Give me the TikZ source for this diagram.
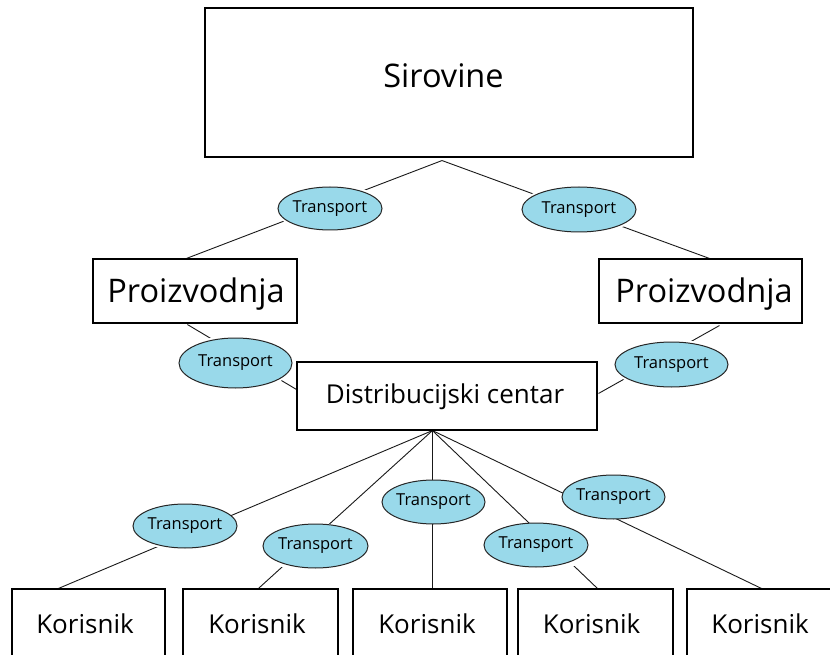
\documentclass[tikz,border=0pt]{standalone}
\usepackage{fontspec}
\setmainfont{Open Sans}
\usetikzlibrary{shapes.geometric,backgrounds,calc}
\definecolor{tblue}{RGB}{153,217,234}
\pgfdeclarelayer{halo}
\pgfsetlayers{background,halo,main}
\begin{document}
\begin{tikzpicture}[x=1pt,y=-1pt,
  boxnode/.style={rectangle,draw=black,line width=1.1pt,fill=white,inner sep=0pt},
  tnode/.style={ellipse,draw=black!85,line width=1pt,fill=tblue,inner sep=0pt,
    font=\fontsize{16.5}{19}\selectfont},
  ringhalo/.style={preaction={draw=white,line width=5pt}},
  conn/.style={draw=black!90,line width=0.9pt},
  lbl/.style={anchor=base,inner sep=0pt},
  big/.style={font=\fontsize{32.5}{38}\selectfont},
  mid/.style={font=\fontsize{26}{30}\selectfont}]
\useasboundingbox (0,0) rectangle (830,655);
\clip (0,0) rectangle (830,655);

% transport ellipses
\node[tnode,ringhalo,minimum width=104pt,minimum height=43pt] (t1) at (330,208.5) {\makebox[0pt]{Transport}};
\node[tnode,ringhalo,minimum width=114pt,minimum height=45pt] (t2) at (579,209.5) {\makebox[0pt]{Transport}};
\node[tnode,ringhalo,minimum width=113pt,minimum height=50pt] (t3) at (235.5,363) {\makebox[0pt]{Transport}};
\node[tnode,ringhalo,minimum width=113pt,minimum height=45pt] (t4) at (671.5,364.5) {\makebox[0pt]{Transport}};
\node[tnode,minimum width=104pt,minimum height=44pt] (e1) at (185,526) {\makebox[0pt]{Transport}};
\node[tnode,minimum width=105pt,minimum height=44pt] (e2) at (315.5,546) {\makebox[0pt]{Transport}};
\node[tnode,minimum width=103pt,minimum height=44pt] (e3) at (433.5,502) {\makebox[0pt]{Transport}};
\node[tnode,minimum width=104pt,minimum height=44pt] (e4) at (536,545) {\makebox[0pt]{Transport}};
\node[tnode,minimum width=103pt,minimum height=44pt] (e5) at (613.5,497) {\makebox[0pt]{Transport}};

% white frames behind the lower ellipses
\begin{pgfonlayer}{halo}
\foreach \e in {e1,e2,e3,e4,e5}
  \fill[white] ($(\e.south west)+(-6,5)$) rectangle ($(\e.north east)+(6,-6)$);
\end{pgfonlayer}

% boxes
\node[boxnode,minimum width=488pt,minimum height=149pt] (sir) at (449,82.5) {};
\node[boxnode,minimum width=204pt,minimum height=64pt] (p1) at (195,291) {};
\node[boxnode,minimum width=203pt,minimum height=64pt] (p2) at (700.5,291) {};
\node[boxnode,minimum width=300pt,minimum height=68pt] (dc) at (447,396) {};
\node[boxnode,minimum width=153pt,minimum height=100pt] (k1) at (88.5,639) {};
\node[boxnode,minimum width=155pt,minimum height=100pt] (k2) at (260.5,639) {};
\node[boxnode,minimum width=154pt,minimum height=100pt] (k3) at (430,639) {};
\node[boxnode,minimum width=155pt,minimum height=100pt] (k4) at (595.5,639) {};
\node[boxnode,minimum width=148pt,minimum height=100pt] (k5) at (761,639) {};

% texts
\node[lbl,big] (sirT) at (443.5,88) {Sirovine};
\node[lbl,big] (p1T) at (196,302) {Proizvodnja};
\node[lbl,big] (p2T) at (704,302) {Proizvodnja};
\node[lbl,mid] (dcT) at (445,403) {Distribucijski centar};
\node[lbl,mid] (k1T) at (85,633) {Korisnik};
\node[lbl,mid] (k2T) at (257,633) {Korisnik};
\node[lbl,mid] (k3T) at (427,633) {Korisnik};
\node[lbl,mid] (k4T) at (591.5,633) {Korisnik};
\node[lbl,mid] (k5T) at (760,633) {Korisnik};

% connector end points
\coordinate (apex) at ($(sir.south)+(-7,3)$);
\coordinate (p1t) at ($(p1.north west)+(94,0)$);
\coordinate (p2t) at ($(p2.north west)+(111,0)$);
\coordinate (p1b) at ($(p1.south west)+(95,1)$);
\coordinate (p2b) at ($(p2.south west)+(121,2)$);
\coordinate (dl) at ($(dc.north west)+(0,28)$);
\coordinate (dr) at ($(dc.north east)+(1,32)$);
\coordinate (hub) at ($(dc.south west)+(136,0)$);
\coordinate (k1t) at ($(k1.north west)+(47,0)$);
\coordinate (k2t) at ($(k2.north west)+(76,0)$);
\coordinate (k3t) at ($(k3.north west)+(80,0)$);
\coordinate (k4t) at ($(k4.north west)+(80,0)$);
\coordinate (k5t) at ($(k5.north west)+(75,0)$);

\begin{pgfonlayer}{background}
\fill[white] (0,0) rectangle (830,655);
\draw[conn] (apex) -- (p1t);
\draw[conn] (apex) -- (p2t);
\draw[conn] (p1b) -- (dl);
\draw[conn] (p2b) -- (dr);
\draw[conn] (hub) -- (k1t);
\draw[conn] (hub) -- (k2t);
\draw[conn] (hub) -- (k3t);
\draw[conn] (hub) -- (k4t);
\draw[conn] (hub) -- (k5t);
\end{pgfonlayer}
\end{tikzpicture}
\end{document}
